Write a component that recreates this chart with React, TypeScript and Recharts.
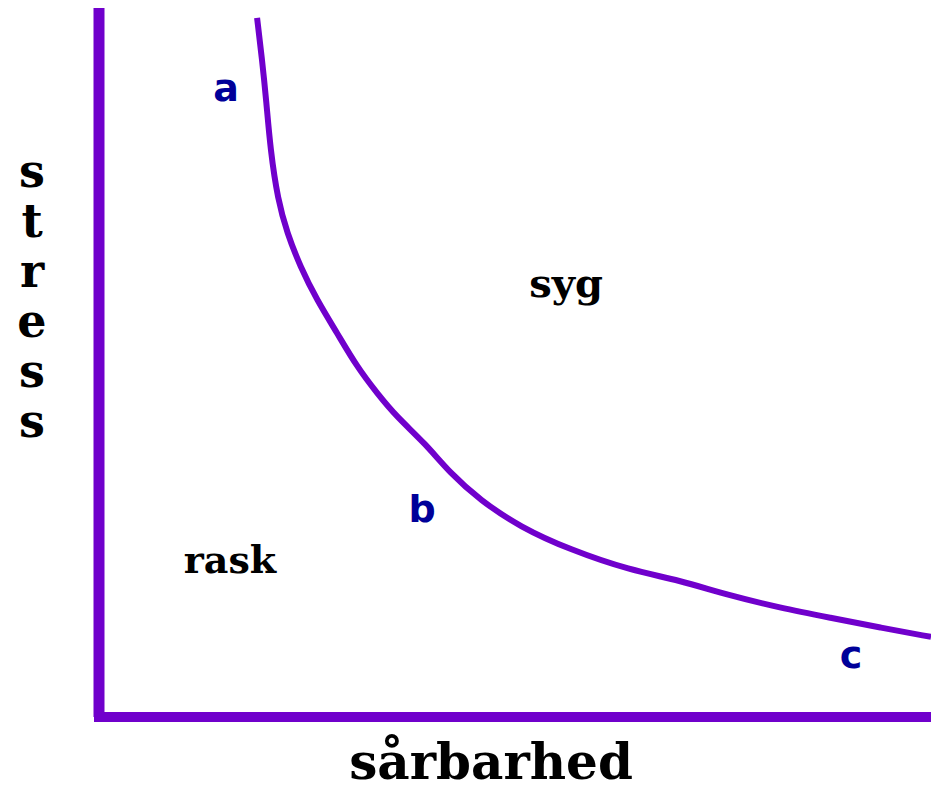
import { Line, LineChart, ReferenceLine, XAxis, YAxis } from 'recharts'

// sårbarhed (x) vs stress (y), 0–100 scale
const vulnerability = [
  19.0, 19.6, 20.1, 20.6, 21.5, 22.6, 24.2, 26.2, 28.6, 31.0, 33.4, 35.8,
  39.2, 42.2, 45.8, 50.6, 56.6, 63.8, 69.8, 75.5, 81.9, 87.9, 93.9, 100
]
const stress = [
  98.6, 92.7, 87.0, 80.0, 72.9, 68.3, 63.5, 58.8, 54.2, 49.4, 45.7, 42.3,
  38.6, 34.4, 30.6, 26.8, 23.6, 20.7, 19.3, 17.2, 15.4, 14.0, 12.6, 11.3
]

const yTitle = ['s', 't', 'r', 'e', 's', 's']
const xTitle = 'sårbarhed'
const regionLabels = ['syg', 'rask']
const pointLabels = ['a', 'b', 'c']

const PURPLE = '#7000cc'
const serif = '"DejaVu Serif", serif'

export default function App() {
  const data = vulnerability.map((x, i) => ({ x, y: stress[i] }))

  return (
    <div style={{ position: 'absolute', left: 0, top: 0, width: 931, height: 788, background: '#fff' }}>
      <LineChart
        width={931}
        height={788}
        data={data}
        margin={{ top: 8, right: 0, left: 99, bottom: 71 }}
      >
        <XAxis type="number" dataKey="x" domain={[0, 100]} hide />
        <YAxis type="number" dataKey="y" domain={[0, 100]} hide />
        <ReferenceLine x={0} stroke={PURPLE} strokeWidth={11} />
        <ReferenceLine y={0} stroke={PURPLE} strokeWidth={10} strokeLinecap="square" />
        <Line
          type="basis"
          dataKey="y"
          stroke={PURPLE}
          strokeWidth={6}
          dot={false}
          isAnimationActive={false}
        />
      </LineChart>

      <svg
        width={931}
        height={788}
        style={{ position: 'absolute', left: 0, top: 0, pointerEvents: 'none' }}
      >
        {yTitle.map((ch, i) => (
          <text
            key={i}
            x={32}
            y={187 + i * 50}
            textAnchor="middle"
            fontFamily={serif}
            fontWeight="bold"
            fontSize={46}
            fill="#000"
          >
            {ch}
          </text>
        ))}
        <text x={491} y={779} textAnchor="middle" fontFamily={serif} fontWeight="bold" fontSize={50} fill="#000">
          {xTitle}
        </text>
        <text x={566} y={297} textAnchor="middle" fontFamily={serif} fontWeight="bold" fontSize={40} fill="#000">
          {regionLabels[0]}
        </text>
        <text x={230} y={573} textAnchor="middle" fontFamily={serif} fontWeight="bold" fontSize={38} fill="#000">
          {regionLabels[1]}
        </text>
        {pointLabels.map((l, i) => (
          <text
            key={l}
            x={[226, 422, 851][i]}
            y={[101, 522, 668][i]}
            textAnchor="middle"
            fontFamily='"DejaVu Sans", sans-serif'
            fontWeight="bold"
            fontSize={38}
            fill="#000099"
          >
            {l}
          </text>
        ))}
      </svg>
    </div>
  )
}
